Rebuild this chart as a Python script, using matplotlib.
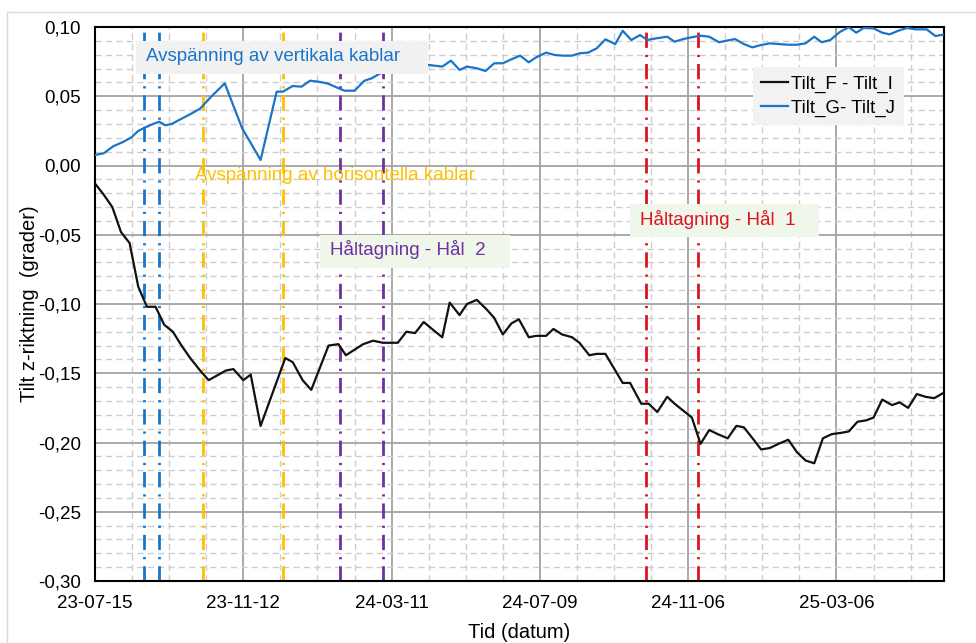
import datetime as dt
import matplotlib
matplotlib.use("Agg")
import matplotlib.pyplot as plt
from matplotlib.patches import Rectangle
from matplotlib.lines import Line2D
from matplotlib.ticker import FuncFormatter, MultipleLocator

plt.rcParams['font.family'] = ['Liberation Sans', 'DejaVu Sans']

######################################################################
# Data (x = days since 2023-07-15)
######################################################################

start = dt.date(2023, 7, 15)

days_fi = [0, 7, 14, 21, 28, 35, 42, 49, 56, 63, 70, 77, 86, 92, 100, 106, 112, 120, 126, 134,
           154, 160, 168, 175, 189, 197, 203, 210, 217, 225, 233, 239, 245, 252, 259, 266, 274, 281, 287, 295,
           301, 309, 317, 323, 330, 337, 343, 351, 357, 365, 371, 378, 386, 392, 400, 406, 413, 421, 427, 433,
           442, 448, 455, 463, 469, 476, 483, 490, 497, 504, 512, 519, 525, 533, 539, 546, 553, 561, 568, 575,
           582, 589, 596, 604, 610, 617, 624, 630, 637, 645, 651, 658, 665, 672, 679, 686]
tilt_fi = [-0.013, -0.021, -0.030, -0.048, -0.056, -0.0875, -0.102, -0.102, -0.115, -0.120,
           -0.130, -0.139, -0.149, -0.155, -0.151, -0.148, -0.147, -0.155, -0.151, -0.188,
           -0.139, -0.142, -0.155, -0.162, -0.130, -0.129, -0.137, -0.133, -0.129, -0.1265,
           -0.128, -0.128, -0.128, -0.120, -0.121, -0.113, -0.119, -0.124, -0.099, -0.108,
           -0.100, -0.097, -0.104, -0.110, -0.122, -0.114, -0.111, -0.124, -0.123, -0.123,
           -0.118, -0.122, -0.124, -0.128, -0.137, -0.136, -0.136, -0.148, -0.157, -0.157,
           -0.172, -0.172, -0.178, -0.167, -0.172, -0.177, -0.182, -0.201, -0.191, -0.194,
           -0.197, -0.188, -0.189, -0.198, -0.205, -0.204, -0.201, -0.198, -0.207, -0.213,
           -0.215, -0.197, -0.194, -0.193, -0.192, -0.185, -0.184, -0.182, -0.169, -0.173,
           -0.171, -0.175, -0.165, -0.167, -0.168, -0.1645]

days_gj = [0, 7, 15, 22, 29, 35, 41, 47, 52, 57, 62, 69, 77, 85, 94, 105, 119, 134, 147, 152,
           160, 167, 174, 181, 188, 196, 202, 210, 218, 224, 231, 237, 244, 251, 257, 263, 270, 281, 288, 295,
           301, 309, 316, 323, 330, 337, 344, 351, 357, 365, 372, 379, 386, 392, 399, 406, 413, 421, 427, 434,
           441, 447, 454, 463, 469, 476, 483, 490, 497, 505, 511, 518, 525, 532, 539, 546, 553, 561, 568, 575,
           582, 588, 595, 603, 610, 616, 622, 630, 637, 643, 650, 657, 664, 673, 680, 686]
tilt_gj = [0.0076, 0.0088, 0.014, 0.0167, 0.020, 0.025, 0.0276, 0.030, 0.0316, 0.029,
           0.030, 0.0333, 0.037, 0.041, 0.0497, 0.0593, 0.027, 0.004, 0.0533, 0.0533,
           0.0574, 0.0569, 0.0612, 0.0605, 0.0593, 0.0562, 0.054, 0.054, 0.0612, 0.063,
           0.0666, 0.0677, 0.069, 0.070, 0.071, 0.072, 0.0726, 0.0714, 0.0757, 0.069,
           0.0714, 0.0702, 0.0682, 0.0738, 0.0738, 0.0767, 0.0793, 0.0745, 0.0781, 0.0815,
           0.0798, 0.0793, 0.0793, 0.081, 0.0815, 0.0846, 0.0911, 0.0877, 0.0973, 0.0906,
           0.0942, 0.0906, 0.0918, 0.093, 0.0894, 0.0913, 0.0926, 0.0937, 0.093, 0.089,
           0.0901, 0.0913, 0.0877, 0.0853, 0.087, 0.0882, 0.0877, 0.0872, 0.0872, 0.0882,
           0.093, 0.089, 0.0906, 0.0966, 0.0998, 0.0959, 0.0993, 0.099, 0.0959, 0.0947,
           0.0973, 0.0993, 0.0983, 0.0983, 0.0935, 0.0944]

# events (days since start)
ev_vertikala = [40, 52]
ev_horisontella = [87, 152]
ev_hal2 = [198, 233]
ev_hal1 = [446, 488]

######################################################################
# Plot
######################################################################

blue = '#1A75C9'
yellow = '#FFC000'
purple = '#7030A0'
red = '#DC1420'

fig = plt.figure(figsize=(9.76, 6.43), dpi=100)
ax = fig.add_axes([95/976, 1-581/643, 849/976, 554/643])

ax.set_xlim(0, 687)
ax.set_ylim(-0.30, 0.10)

ax.xaxis.set_major_locator(MultipleLocator(120))
ax.xaxis.set_minor_locator(MultipleLocator(30))
ax.yaxis.set_major_locator(MultipleLocator(0.05))
ax.yaxis.set_minor_locator(MultipleLocator(0.01))

ax.xaxis.set_major_formatter(FuncFormatter(
    lambda v, p: (start + dt.timedelta(days=int(round(v)))).strftime('%y-%m-%d')))

def yfmt(v, p):
    if abs(v) < 1e-9:
        v = 0.0
    return ('%.2f' % v).replace('.', ',')
ax.yaxis.set_major_formatter(FuncFormatter(yfmt))

ax.grid(which='major', color='#a3a3a3', lw=1.3, ls='-')
ax.grid(which='minor', color='#cdcdcd', lw=1.0, ls=(0, (4.5, 3)))
ax.set_axisbelow(True)
ax.tick_params(which='both', length=0)
ax.tick_params(axis='both', labelsize=13.5, pad=10)
for s in ax.spines.values():
    s.set_color('black')
    s.set_linewidth(1.5)

dashdot = (0, (5.5, 2.5, 0.8, 2.5))
for days, col in [(ev_vertikala, blue), (ev_horisontella, yellow),
                  (ev_hal2, purple), (ev_hal1, red)]:
    for d in days:
        ax.axvline(d, color=col, lw=2.0, ls=dashdot, zorder=2)

ax.plot(days_fi, tilt_fi, color='#111111', lw=1.6, zorder=3, label='Tilt_F - Tilt_I')
ax.plot(days_gj, tilt_gj, color=blue, lw=1.6, zorder=3, label='Tilt_G- Tilt_J')

# text boxes
ax.add_patch(Rectangle((33, 0.066), 236.5, 0.0239, facecolor='#F1F1F1', edgecolor='none', zorder=5))
ax.text(41.5, 0.079, 'Avspänning av vertikala kablar', color=blue, fontsize=13.5,
        va='center', ha='left', zorder=6)

ax.text(81, -0.0069, 'Avspänning av horisontella kablar', color=yellow, fontsize=13.5,
        va='center', ha='left', zorder=6)

ax.add_patch(Rectangle((182, -0.074), 154, 0.0238, facecolor='#EFF6EA', edgecolor='none', zorder=5))
ax.text(190, -0.061, 'Håltagning - Hål  2', color=purple, fontsize=13.5,
        va='center', ha='left', zorder=6)

ax.add_patch(Rectangle((433, -0.0516), 153, 0.0238, facecolor='#EFF6EA', edgecolor='none', zorder=5))
ax.text(441, -0.0393, 'Håltagning - Hål  1', color=red, fontsize=13.5,
        va='center', ha='left', zorder=6)

leg = ax.legend(loc='upper left', bbox_to_anchor=(0.775, 0.928), borderaxespad=0,
                fontsize=13.5, frameon=True, fancybox=False, facecolor='#F2F2F2',
                edgecolor='none', framealpha=1, handlelength=1.4, handletextpad=0.2,
                labelspacing=0.35, borderpad=0.45)
leg.set_zorder(7)

ax.set_xlabel('Tid (datum)', fontsize=14.5)
ax.set_ylabel('Tilt z-riktning  (grader)', fontsize=14.5)
ax.xaxis.set_label_coords(0.5, -0.075)
ax.yaxis.set_label_coords(-0.066, 0.5)

# chart area frame
fig.add_artist(Line2D([7/976, 7/976], [0, 1-12/643], color='#d9d9d9', lw=1))
fig.add_artist(Line2D([7/976, 1], [1-12/643, 1-12/643], color='#d9d9d9', lw=1))

fig.savefig('out.png', dpi=100)
